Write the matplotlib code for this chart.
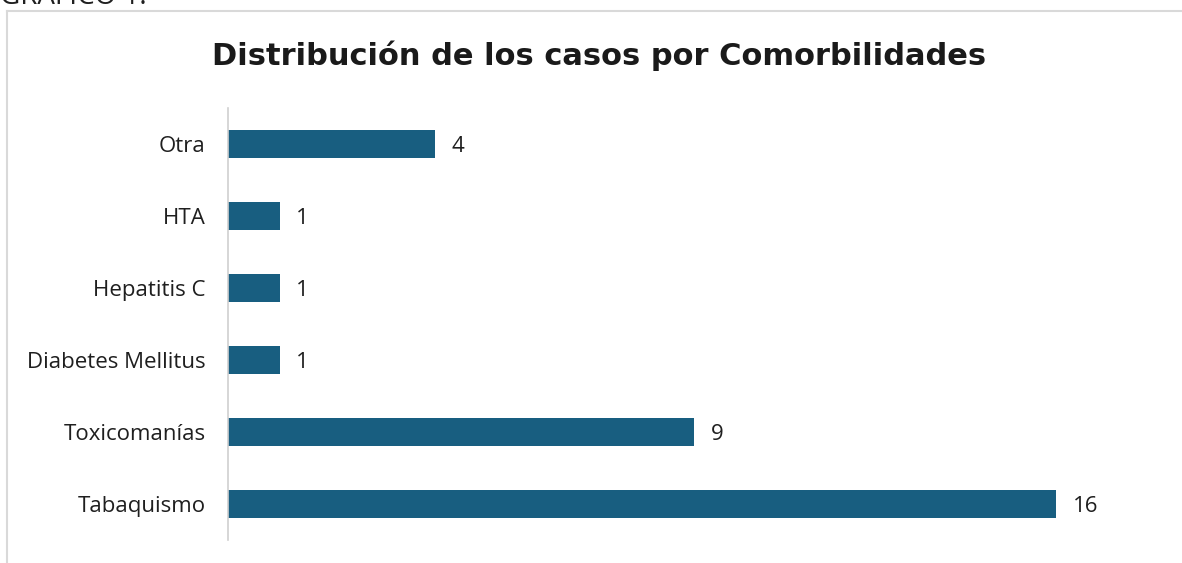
import matplotlib
matplotlib.use("Agg")
import matplotlib.pyplot as plt
from matplotlib.lines import Line2D

categories = ["Tabaquismo", "Toxicomanías", "Diabetes Mellitus", "Hepatitis C", "HTA", "Otra"]
values = [16, 9, 1, 1, 1, 4]
title = "Distribución de los casos por Comorbilidades"
bar_color = "#185E80"

W, H = 1182, 563
fig = plt.figure(figsize=(W/100, H/100), dpi=100)

ax_left, ax_right, ax_top, ax_bottom = 228, 1150, 108, 540
ax = fig.add_axes([ax_left/W, 1 - ax_bottom/H, (ax_right-ax_left)/W, (ax_bottom-ax_top)/H])

y = list(range(len(categories)))
ax.barh(y, values, height=0.39, color=bar_color)
ax.set_ylim(-0.5, 5.5)
xmax = 16 * (ax_right - ax_left) / (1056 - ax_left)
ax.set_xlim(0, xmax)
ax.set_yticks(y)
ax.set_yticklabels(categories, fontsize=16, color="#1f1f1f", family="Open Sans")
ax.tick_params(axis="y", length=0, pad=16)
ax.set_xticks([])
for s in ["top", "right", "bottom"]:
    ax.spines[s].set_visible(False)
ax.spines["left"].set_color("#d0d0d0")
ax.spines["left"].set_linewidth(1.2)

for yi, v in zip(y, values):
    ax.annotate(str(v), (v, yi), xytext=(12, 0), textcoords="offset points",
                va="center_baseline", ha="left", fontsize=16, color="#1f1f1f", family="Open Sans")

fig.text(599/W, 1 - 56/H, title, ha="center", va="center", fontsize=22,
         fontweight="bold", color="#1a1a1a", family="DejaVu Sans")

fig.text(0, 1 - 4/H, "GRÁFICO 1.", ha="left", va="baseline", fontsize=20,
         color="#1f1f1f", family="Open Sans")

fig.add_artist(Line2D([7/W, 1], [1 - 11/H, 1 - 11/H], transform=fig.transFigure, color="#d9d9d9", lw=1.5))
fig.add_artist(Line2D([7/W, 7/W], [0, 1 - 11/H], transform=fig.transFigure, color="#d9d9d9", lw=1.5))

fig.savefig("out.png", dpi=100)
